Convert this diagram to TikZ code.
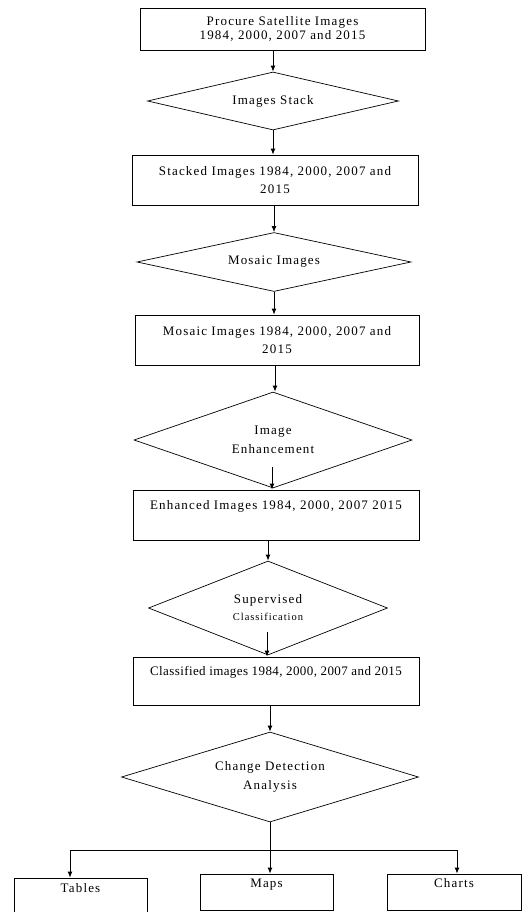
\documentclass[tikz,border=0pt]{standalone}
\usepackage{fontspec}
\setmainfont{Liberation Serif}[LetterSpace=9]
\usetikzlibrary{shapes.geometric,arrows.meta}
\tikzset{
  box/.style={draw, line width=0.7pt, rectangle, inner sep=0pt, align=center, font=\fontsize{13}{18}\selectfont},
  dia/.style={draw, line width=0.7pt, diamond, aspect=3, inner sep=0pt, align=center, font=\fontsize{13}{19}\selectfont},
  arr/.style={line width=1pt, -{Latex[length=6pt,width=5pt]}},
  ln/.style={line width=1pt}
}
\begin{document}
\begin{tikzpicture}[x=1pt,y=-1pt]
\useasboundingbox[fill=white] (0,0) rectangle (522,912);
\node[box, minimum width=285pt, minimum height=42pt, font=\fontsize{13}{14.5}\selectfont] (b1) at (282.5,29) {Procure Satellite Images\\1984, 2000, 2007 and 2015};
\node[dia, minimum width=251pt, minimum height=58pt] (d1) at (273,101) {Images Stack};
\node[box, minimum width=286pt, minimum height=50pt] (b2) at (275,180) {Stacked Images 1984, 2000, 2007 and\\2015};
\node[dia, minimum width=274pt, minimum height=59pt] (d2) at (274,262) {Mosaic Images};
\node[box, minimum width=284pt, minimum height=50pt] (b3) at (277,340) {Mosaic Images 1984, 2000, 2007 and\\2015};
\node[dia, minimum width=278pt, minimum height=96pt] (d3) at (273,440) {Image\\Enhancement};
\node[box, minimum width=286pt, minimum height=50pt] (b4) at (276,515) {Enhanced Images 1984, 2000, 2007 2015\\[-4pt]\strut};
\node[dia, minimum width=239pt, minimum height=94pt, font=\fontsize{13}{17}\selectfont] (d4) at (268,608) {Supervised\\{\fontsize{10.5}{13}\selectfont Classification}};
\node[box, minimum width=286pt, minimum height=48pt, font=\fontsize{13}{18}\selectfont\addfontfeature{LetterSpace=3}] (b5) at (276,681) {Classified images 1984, 2000, 2007 and 2015\\[-4pt]\strut};
\node[dia, minimum width=297pt, minimum height=90pt] (d5) at (270,777) {Change Detection\\Analysis};
\node[box, minimum width=133pt, minimum height=40pt] (tab) at (80.5,898) {Tables\\[-4pt]\strut};
\node[box, minimum width=133pt, minimum height=36pt] (map) at (266.5,892) {Maps\\[-6pt]\strut};
\node[box, minimum width=134pt, minimum height=36pt] (cha) at (454,892) {Charts\\[-6pt]\strut};
\coordinate (sp) at (270,850);
\coordinate (hl) at (70,850);
\coordinate (hr) at (457,850);
\draw[arr] (d1.north |- b1.south) -- (d1.north);
\draw[arr] (d1.south) -- (d1.south |- b2.north);
\draw[arr] (d2.north |- b2.south) -- (d2.north);
\draw[arr] (d2.south) -- (d2.south |- b3.north);
\draw[arr] ([xshift=2pt]d3.north |- b3.south) -- ([xshift=2pt]d3.north);
\draw[arr] ([xshift=-1pt,yshift=21pt]d3.south) -- ([xshift=-1pt]d3.south |- b4.north);
\draw[arr] (d4.north |- b4.south) -- (d4.north);
\draw[arr] ([xshift=-1pt,yshift=23pt]d4.south) -- ([xshift=-1pt]d4.south |- b5.north);
\draw[arr] (d5.north |- b5.south) -- (d5.north);
\draw[ln] (d5.south) -- (sp);
\draw[ln] (hl) -- (hr);
\draw[arr] (hl) -- (hl |- tab.north);
\draw[arr] (sp) -- (sp |- map.north);
\draw[arr] (hr) -- (hr |- cha.north);
\end{tikzpicture}
\end{document}
